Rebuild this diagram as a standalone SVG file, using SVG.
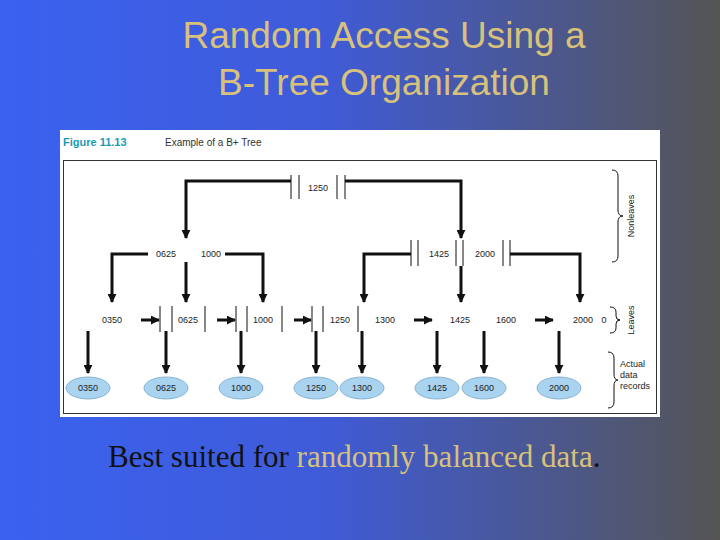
<svg xmlns="http://www.w3.org/2000/svg" width="720" height="540" viewBox="0 0 720 540">
<defs>
<linearGradient id="bg" x1="0" y1="0" x2="1" y2="0">
<stop offset="0" stop-color="#3a62f0"/><stop offset="0.45" stop-color="#3f5bd8"/><stop offset="1" stop-color="#555555"/>
</linearGradient>
<marker id="ah" viewBox="0 0 10 10" refX="9" refY="5" markerWidth="3" markerHeight="3" orient="auto"><path d="M0,0L10,5L0,10z" fill="#111"/></marker>
<style>
.t{font-family:"Liberation Sans",Arial,sans-serif;font-size:9px;fill:#222;text-anchor:middle}
.s{stroke:#111;stroke-width:1;fill:none}
.a{stroke:#111;stroke-width:3;fill:none;marker-end:url(#ah)}
.e{fill:#a9d3ef;stroke:#7aa8c8;stroke-width:0.8}
</style>
</defs>
<rect width="720" height="540" fill="url(#bg)"/>
<g font-family="Liberation Sans,Arial,sans-serif" font-size="37" fill="#d8c17c" text-anchor="middle">
<text x="384" y="48">Random Access Using a</text>
<text x="384" y="95">B-Tree Organization</text>
</g>
<rect x="60" y="130" width="600" height="287" fill="#fff"/>
<rect x="63.5" y="160.5" width="593" height="253" fill="none" stroke="#333" stroke-width="1"/>
<text x="63" y="146" font-family="Liberation Sans,Arial,sans-serif" font-size="11" font-weight="bold" fill="#1a9bb5">Figure 11.13</text>
<text x="165" y="146" font-family="Liberation Sans,Arial,sans-serif" font-size="10" fill="#333">Example of a B+ Tree</text>
<g id="root"><path class="s" d="M291,175V199M299,175V199M337,175V199M345,175V199"/><text class="t" x="318" y="191">1250</text></g>
<g id="n1"><text class="t" x="166" y="257">0625</text><text class="t" x="211" y="257">1000</text></g>
<g id="n2"><path class="s" d="M411,240V266M418,240V266M456,240V266M463,240V266M503,240V266M510,240V266"/><text class="t" x="439" y="257">1425</text><text class="t" x="485" y="257">2000</text></g>
<g id="leaves">
<path class="s" d="M160,306V332M172,306V332M205,306V332M236,306V332M247,306V332M282,306V332M312,306V332M323,306V332M358,306V332"/>
<text class="t" x="112" y="323">0350</text><text class="t" x="188" y="323">0625</text><text class="t" x="263" y="323">1000</text><text class="t" x="340" y="323">1250</text><text class="t" x="385" y="323">1300</text><text class="t" x="460" y="323">1425</text><text class="t" x="506" y="323">1600</text><text class="t" x="583" y="323">2000</text><text class="t" x="604" y="323">0</text>
</g>
<g id="records">
<ellipse class="e" cx="88" cy="388" rx="22" ry="11"/><ellipse class="e" cx="166" cy="388" rx="22" ry="11"/><ellipse class="e" cx="241" cy="388" rx="22" ry="11"/><ellipse class="e" cx="316" cy="388" rx="22" ry="11"/><ellipse class="e" cx="362" cy="388" rx="22" ry="11"/><ellipse class="e" cx="437" cy="388" rx="22" ry="11"/><ellipse class="e" cx="484" cy="388" rx="22" ry="11"/><ellipse class="e" cx="559" cy="388" rx="22" ry="11"/>
<text class="t" x="88" y="391">0350</text><text class="t" x="166" y="391">0625</text><text class="t" x="241" y="391">1000</text><text class="t" x="316" y="391">1250</text><text class="t" x="362" y="391">1300</text><text class="t" x="437" y="391">1425</text><text class="t" x="484" y="391">1600</text><text class="t" x="559" y="391">2000</text>
</g>
<g id="connectors">
<path class="a" d="M291,181H186V238"/><path class="a" d="M345,181H461V238"/>
<path class="a" d="M148,254H112V302"/><path class="a" d="M186,262V302"/><path class="a" d="M225,254H263V302"/>
<path class="a" d="M411,254H364V302"/><path class="a" d="M461,266V302"/><path class="a" d="M510,254H580V302"/>
<path class="a" d="M141,320H159"/><path class="a" d="M217,320H235"/><path class="a" d="M294,320H311"/><path class="a" d="M414,320H432"/><path class="a" d="M535,320H553"/>
<path class="a" d="M88,331V373"/><path class="a" d="M166,331V373"/><path class="a" d="M241,331V373"/><path class="a" d="M316,331V373"/><path class="a" d="M362,331V373"/><path class="a" d="M437,331V373"/><path class="a" d="M484,331V373"/><path class="a" d="M559,331V373"/>
</g>
<g id="braces" font-family="Liberation Sans,Arial,sans-serif" font-size="9" fill="#222">
<path class="s" d="M612,170Q618,170 618,176V210Q618,216 623,216Q618,216 618,222V256Q618,262 612,262" stroke-width="0.8"/>
<text transform="translate(634,216) rotate(-90)" text-anchor="middle">Nonleaves</text>
<path class="s" d="M610,307Q616,307 616,312V316Q616,320 620,320Q616,320 616,324V328Q616,333 610,333" stroke-width="0.8"/>
<text transform="translate(634,320) rotate(-90)" text-anchor="middle">Leaves</text>
<path class="s" d="M608,352Q614,352 614,358V374Q614,380 618,380Q614,380 614,386V402Q614,408 608,408" stroke-width="0.8"/>
<text x="620" y="367">Actual</text><text x="620" y="378">data</text><text x="620" y="389">records</text>
</g>
<text x="108" y="467" font-family="Liberation Serif,Times New Roman,serif" font-size="31" fill="#111">Best suited for <tspan fill="#d8c17c">randomly balanced data</tspan>.</text>
</svg>
